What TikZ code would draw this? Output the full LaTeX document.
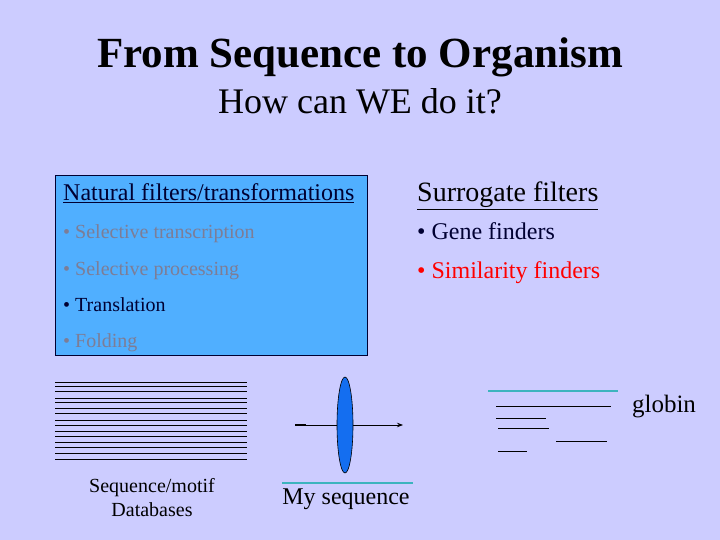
\documentclass[tikz,border=0pt]{standalone}
\usepackage{fontspec}
\setmainfont{Liberation Serif}
\usetikzlibrary{arrows.meta,shapes.geometric}
\definecolor{bg}{RGB}{204,204,255}
\definecolor{boxblue}{RGB}{80,175,255}
\definecolor{dim}{RGB}{125,125,150}
\definecolor{navy}{RGB}{0,0,50}
\definecolor{teal}{RGB}{60,180,190}
\definecolor{lensblue}{RGB}{20,110,240}
\tikzset{
  txt/.style={inner sep=0pt, anchor=base west, text=navy},
  dbline/.style={draw=black, line width=0.9pt},
  tline/.style={draw=teal, line width=1.8pt},
  gline/.style={draw=black, line width=0.9pt}
}
\begin{document}
\begin{tikzpicture}[x=1pt,y=-1pt]
\fill[bg] (0,0) rectangle (720,540);
\useasboundingbox (0,0) rectangle (720,540);
\node[inner sep=0pt, font=\fontsize{43}{48}\selectfont\bfseries, text=black] (title) at (360,57) {From Sequence to Organism};
\node[inner sep=0pt, font=\fontsize{36}{40}\selectfont, text=black] (sub) at (360,101) {How can WE do it?};
\node[draw=navy, fill=boxblue, line width=0.8pt, minimum width=312pt, minimum height=180pt, anchor=north west, inner sep=0pt] (box) at (55,175) {};
\node[txt, font=\fontsize{24}{28}\selectfont] (h1) at (63,201) {\underline{Natural filters/transformations}};
\node[txt, font=\fontsize{20}{24}\selectfont, text=dim] (a1) at (63,239) {• Selective transcription};
\node[txt, font=\fontsize{20}{24}\selectfont, text=dim] (a2) at (63,275) {• Selective processing};
\node[txt, font=\fontsize{20}{24}\selectfont] (a3) at (63,311) {• Translation};
\node[txt, font=\fontsize{20}{24}\selectfont, text=dim] (a4) at (63,347) {• Folding};
\node[txt, font=\fontsize{28}{32}\selectfont, text=black] (h2) at (417,202) {\underline{Surrogate filters}};
\node[txt, font=\fontsize{24}{28}\selectfont] (b1) at (417,240) {• Gene finders};
\node[txt, font=\fontsize{24}{28}\selectfont, text=red] (b2) at (417,278) {• Similarity finders};
\foreach \y in {382,386,391,398,402,408,413,420,425,431,436,442,447,453,459}
  \draw[dbline] (55,\y) -- (247,\y);
\node[inner sep=0pt, align=center, font=\fontsize{20}{24}\selectfont, text=black] (db) at (152,498) {Sequence/motif\\Databases};
\coordinate (s) at (295,425);
\coordinate (e) at (403,425);
\draw[line width=0.8pt, -{Stealth[length=6pt]}] (s) -- (e);
\draw[line width=1.6pt] (s) -- (306,425);
\node[ellipse, draw=black, fill=lensblue, minimum width=16pt, minimum height=96pt, inner sep=0pt, line width=0.6pt] (lens) at (345,425) {};
\coordinate (m1) at (282,483);
\coordinate (m2) at (413,483);
\draw[tline] (m1) -- (m2);
\node[inner sep=0pt, font=\fontsize{24}{28}\selectfont, text=black] (my) at (346,499) {My sequence};
\draw[tline] (488,391) -- (618,391);
\draw[gline] (496,406) -- (611,406);
\draw[gline] (496,418) -- (546,418);
\draw[gline] (498,428) -- (549,428);
\draw[gline] (556,441) -- (607,441);
\draw[gline] (498,451) -- (527,451);
\node[inner sep=0pt, font=\fontsize{25}{28}\selectfont, text=black] (glob) at (664,407) {globin};
\end{tikzpicture}
\end{document}
